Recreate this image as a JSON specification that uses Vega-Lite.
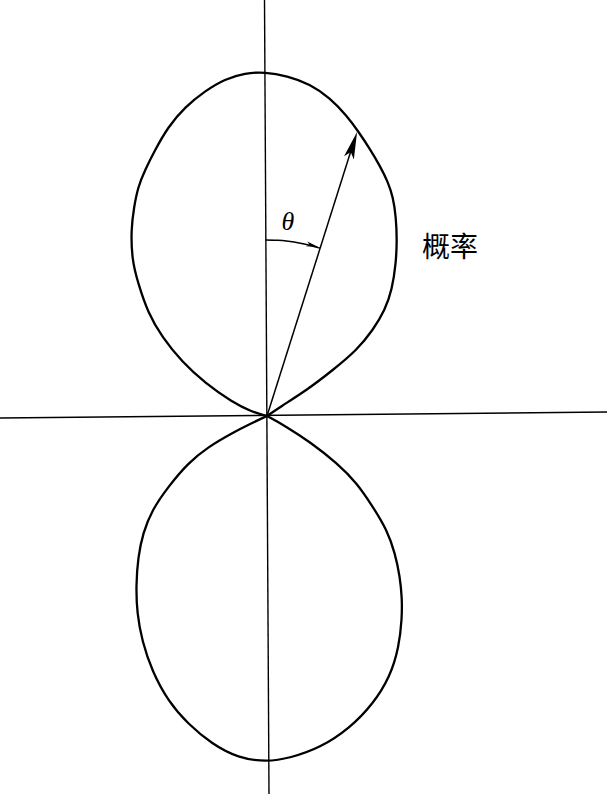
{
  "$schema": "https://vega.github.io/schema/vega-lite/v6.json",
  "width": 607,
  "height": 794,
  "autosize": "none",
  "padding": 0,
  "background": "white",
  "config": {"view": {"stroke": null}},
  "datasets": {
    "curves": [
      {"g": "vaxis", "i": 0, "x": -2.5, "y": 416},
      {"g": "vaxis", "i": 1, "x": 2, "y": -378},
      {"g": "haxis", "i": 0, "x": -267, "y": -2},
      {"g": "haxis", "i": 1, "x": 340, "y": 4},
      {"g": "vec", "i": 0, "x": 0, "y": 0},
      {"g": "vec", "i": 1, "x": 88, "y": 278},
      {"g": "arc", "i": 0, "x": -1.5, "y": 176},
      {"g": "arc", "i": 1, "x": 10.7, "y": 175.7},
      {"g": "arc", "i": 2, "x": 21.4, "y": 174.7},
      {"g": "arc", "i": 3, "x": 32.1, "y": 173.1},
      {"g": "arc", "i": 4, "x": 42.6, "y": 170.8},
      {"g": "arc", "i": 5, "x": 52.9, "y": 167.9},
      {"g": "top", "i": 0, "x": 0, "y": 0},
      {"g": "top", "i": 1, "x": 13, "y": 9},
      {"g": "top", "i": 2, "x": 40, "y": 26},
      {"g": "top", "i": 3, "x": 66, "y": 46},
      {"g": "top", "i": 4, "x": 90, "y": 66},
      {"g": "top", "i": 5, "x": 106, "y": 86},
      {"g": "top", "i": 6, "x": 118, "y": 106},
      {"g": "top", "i": 7, "x": 125, "y": 126},
      {"g": "top", "i": 8, "x": 129, "y": 153},
      {"g": "top", "i": 9, "x": 130, "y": 176},
      {"g": "top", "i": 10, "x": 129, "y": 199},
      {"g": "top", "i": 11, "x": 126, "y": 219},
      {"g": "top", "i": 12, "x": 121, "y": 234},
      {"g": "top", "i": 13, "x": 113, "y": 250},
      {"g": "top", "i": 14, "x": 103, "y": 267},
      {"g": "top", "i": 15, "x": 91, "y": 285},
      {"g": "top", "i": 16, "x": 80, "y": 300},
      {"g": "top", "i": 17, "x": 63, "y": 318},
      {"g": "top", "i": 18, "x": 43, "y": 332},
      {"g": "top", "i": 19, "x": 20, "y": 340},
      {"g": "top", "i": 20, "x": -2, "y": 344},
      {"g": "top", "i": 21, "x": -22, "y": 343},
      {"g": "top", "i": 22, "x": -42, "y": 337},
      {"g": "top", "i": 23, "x": -62, "y": 325},
      {"g": "top", "i": 24, "x": -82, "y": 309},
      {"g": "top", "i": 25, "x": -99, "y": 289},
      {"g": "top", "i": 26, "x": -112, "y": 266},
      {"g": "top", "i": 27, "x": -122, "y": 246},
      {"g": "top", "i": 28, "x": -129, "y": 229},
      {"g": "top", "i": 29, "x": -133, "y": 209},
      {"g": "top", "i": 30, "x": -136, "y": 186},
      {"g": "top", "i": 31, "x": -135, "y": 156},
      {"g": "top", "i": 32, "x": -129, "y": 133},
      {"g": "top", "i": 33, "x": -119, "y": 103},
      {"g": "top", "i": 34, "x": -105, "y": 79},
      {"g": "top", "i": 35, "x": -85, "y": 54},
      {"g": "top", "i": 36, "x": -62, "y": 33},
      {"g": "top", "i": 37, "x": -35, "y": 14},
      {"g": "top", "i": 38, "x": -15, "y": 4},
      {"g": "top", "i": 39, "x": 0, "y": 0},
      {"g": "bottom", "i": 0, "x": 0, "y": 0},
      {"g": "bottom", "i": 1, "x": 20, "y": -11},
      {"g": "bottom", "i": 2, "x": 43, "y": -26},
      {"g": "bottom", "i": 3, "x": 70, "y": -47},
      {"g": "bottom", "i": 4, "x": 90, "y": -67},
      {"g": "bottom", "i": 5, "x": 106, "y": -91},
      {"g": "bottom", "i": 6, "x": 120, "y": -114},
      {"g": "bottom", "i": 7, "x": 128, "y": -137},
      {"g": "bottom", "i": 8, "x": 133, "y": -161},
      {"g": "bottom", "i": 9, "x": 135, "y": -182},
      {"g": "bottom", "i": 10, "x": 135, "y": -202},
      {"g": "bottom", "i": 11, "x": 132, "y": -231},
      {"g": "bottom", "i": 12, "x": 123, "y": -261},
      {"g": "bottom", "i": 13, "x": 106, "y": -288},
      {"g": "bottom", "i": 14, "x": 83, "y": -312},
      {"g": "bottom", "i": 15, "x": 53, "y": -332},
      {"g": "bottom", "i": 16, "x": 23, "y": -342},
      {"g": "bottom", "i": 17, "x": 0, "y": -346},
      {"g": "bottom", "i": 18, "x": -29, "y": -342},
      {"g": "bottom", "i": 19, "x": -55, "y": -328},
      {"g": "bottom", "i": 20, "x": -79, "y": -308},
      {"g": "bottom", "i": 21, "x": -99, "y": -285},
      {"g": "bottom", "i": 22, "x": -115, "y": -255},
      {"g": "bottom", "i": 23, "x": -125, "y": -225},
      {"g": "bottom", "i": 24, "x": -130, "y": -197},
      {"g": "bottom", "i": 25, "x": -131, "y": -170},
      {"g": "bottom", "i": 26, "x": -129, "y": -141},
      {"g": "bottom", "i": 27, "x": -124, "y": -117},
      {"g": "bottom", "i": 28, "x": -115, "y": -94},
      {"g": "bottom", "i": 29, "x": -99, "y": -71},
      {"g": "bottom", "i": 30, "x": -79, "y": -47},
      {"g": "bottom", "i": 31, "x": -59, "y": -31},
      {"g": "bottom", "i": 32, "x": -35, "y": -17},
      {"g": "bottom", "i": 33, "x": -15, "y": -7},
      {"g": "bottom", "i": 34, "x": 0, "y": 0}
    ],
    "heads": [
      {"h": "vec", "x": 86, "y": 271},
      {"h": "arc", "x": 45.5, "y": 170.5}
    ],
    "labels": [
      {"t": "theta", "text": "θ", "x": 21, "y": 194},
      {"t": "prob", "text": "概率", "x": 183, "y": 167}
    ]
  },
  "encoding": {
    "x": {"field": "x", "type": "quantitative", "scale": {"domain": [-267, 340], "nice": false, "zero": false}, "axis": null},
    "y": {"field": "y", "type": "quantitative", "scale": {"domain": [-378, 416], "nice": false, "zero": false}, "axis": null}
  },
  "layer": [
    {
      "data": {"name": "curves"},
      "transform": [{"filter": "datum.g === 'vaxis' || datum.g === 'haxis'"}],
      "mark": {"type": "line", "color": "black", "strokeWidth": 1.4},
      "encoding": {"detail": {"field": "g"}, "order": {"field": "i", "type": "quantitative"}}
    },
    {
      "data": {"name": "curves"},
      "transform": [{"filter": "datum.g === 'vec' || datum.g === 'arc'"}],
      "mark": {"type": "line", "color": "black", "strokeWidth": 1.5, "interpolate": "monotone"},
      "encoding": {"detail": {"field": "g"}, "order": {"field": "i", "type": "quantitative"}}
    },
    {
      "data": {"name": "curves"},
      "transform": [{"filter": "datum.g === 'top' || datum.g === 'bottom'"}],
      "mark": {"type": "line", "color": "black", "strokeWidth": 2.3, "interpolate": "basis"},
      "encoding": {"detail": {"field": "g"}, "order": {"field": "i", "type": "quantitative"}}
    },
    {
      "data": {"name": "heads"},
      "transform": [{"filter": "datum.h === 'vec'"}],
      "mark": {"type": "point", "shape": "M0,-1L0.38,1L0,0.55L-0.38,1Z", "filled": true, "color": "black", "opacity": 1, "size": 729, "angle": 17.5}
    },
    {
      "data": {"name": "heads"},
      "transform": [{"filter": "datum.h === 'arc'"}],
      "mark": {"type": "point", "shape": "M0,-1L0.4,1L0,0.5L-0.4,1Z", "filled": true, "color": "black", "opacity": 1, "size": 150, "angle": 105}
    },
    {
      "data": {"name": "labels"},
      "transform": [{"filter": "datum.t === 'theta'"}],
      "mark": {"type": "text", "font": "Liberation Serif", "fontStyle": "italic", "fontSize": 26, "color": "black", "align": "center", "baseline": "middle"},
      "encoding": {"text": {"field": "text"}}
    },
    {
      "data": {"name": "labels"},
      "transform": [{"filter": "datum.t === 'prob'"}],
      "mark": {"type": "text", "font": "Noto Sans CJK SC", "fontSize": 28, "color": "black", "align": "center", "baseline": "middle"},
      "encoding": {"text": {"field": "text"}}
    }
  ]
}
